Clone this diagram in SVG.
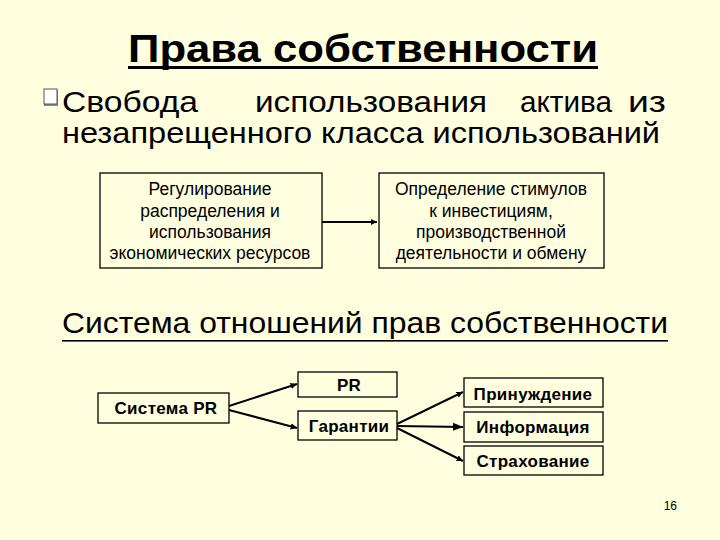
<svg xmlns="http://www.w3.org/2000/svg" width="720" height="540" viewBox="0 0 720 540">
<style>
.t{font-family:"Liberation Sans",Arial,sans-serif;fill:#000}
.box{fill:none;stroke:#000;stroke-width:1.3}
.bt{font-family:"Liberation Sans",Arial,sans-serif;font-size:17.5px;text-anchor:middle;fill:#000}
.bb{font-family:"Liberation Sans",Arial,sans-serif;font-size:17px;font-weight:bold;text-anchor:middle;fill:#000;letter-spacing:0.3px}
.c{stroke:#000;stroke-width:2;fill:none}
</style>
<defs>
<marker id="ah" viewBox="0 0 10 10" refX="10" refY="5" markerWidth="3.2" markerHeight="3.2" orient="auto" markerUnits="strokeWidth"><path d="M0,0 L10,5 L0,10 z" fill="#000"/></marker>
<marker id="ahs" viewBox="0 0 10 10" refX="10" refY="5" markerWidth="5" markerHeight="5" orient="auto" markerUnits="strokeWidth"><path d="M0,1 L10,5 L0,9 z" fill="#000"/></marker>
</defs>
<rect width="720" height="540" fill="#FFFFE0"/>
<g id="title">
<text class="t" x="128" y="62" font-size="38" font-weight="bold" textLength="470" lengthAdjust="spacingAndGlyphs">Права собственности</text>
<rect x="128" y="66" width="470" height="3" fill="#000"/>
</g>
<g id="bullet">
<rect x="44" y="90" width="14" height="16" fill="#888"/>
<rect x="44" y="89" width="13" height="15" fill="#fff" stroke="#555" stroke-width="1"/>
<text class="t" x="62" y="112" font-size="30" textLength="136" lengthAdjust="spacingAndGlyphs">Свобода</text>
<text class="t" x="255" y="112" font-size="30" textLength="232" lengthAdjust="spacingAndGlyphs">использования</text>
<text class="t" x="520" y="112" font-size="30" textLength="92" lengthAdjust="spacingAndGlyphs">актива</text>
<text class="t" x="628" y="112" font-size="30" textLength="38" lengthAdjust="spacingAndGlyphs">из</text>
<text class="t" x="62" y="143" font-size="30" textLength="598" lengthAdjust="spacingAndGlyphs">незапрещенного класса использований</text>
</g>
<g id="n1">
<rect class="box" x="100" y="173" width="222" height="95"/>
<text class="bt" x="210" y="195">Регулирование</text>
<text class="bt" x="210" y="216.5">распределения и</text>
<text class="bt" x="210" y="237.5">использования</text>
<text class="bt" x="210" y="258.5">экономических ресурсов</text>
</g>
<g id="n2">
<rect class="box" x="379" y="173" width="225" height="95"/>
<text class="bt" x="491" y="195">Определение стимулов</text>
<text class="bt" x="491" y="216.5">к инвестициям,</text>
<text class="bt" x="491" y="237.5">производственной</text>
<text class="bt" x="491" y="258.5">деятельности и обмену</text>
</g>
<g id="subtitle">
<text class="t" x="62" y="333" font-size="30" textLength="606" lengthAdjust="spacingAndGlyphs">Система отношений прав собственности</text>
<rect x="62" y="340" width="606" height="1.6" fill="#000"/>
</g>
<g id="n3">
<rect class="box" x="98" y="393" width="131" height="30"/>
<text class="bb" x="166" y="414">Система PR</text>
</g>
<g id="n4">
<rect class="box" x="298" y="372" width="99" height="25"/>
<text class="bb" x="349" y="391">PR</text>
</g>
<g id="n5">
<rect class="box" x="298" y="411" width="99" height="29"/>
<text class="bb" x="349" y="432">Гарантии</text>
</g>
<g id="n6">
<rect class="box" x="464" y="378" width="139" height="29"/>
<text class="bb" x="533" y="400">Принуждение</text>
</g>
<g id="n7">
<rect class="box" x="464" y="412" width="139" height="30"/>
<text class="bb" x="533" y="433">Информация</text>
</g>
<g id="n8">
<rect class="box" x="464" y="446" width="139" height="29"/>
<text class="bb" x="533" y="467">Страхование</text>
</g>
<g id="connectors">
<line class="c" x1="322" y1="222" x2="377" y2="222" stroke-width="3" marker-end="url(#ah)"/>
<line class="c" x1="229" y1="406" x2="297" y2="384" marker-end="url(#ah)"/>
<line class="c" x1="229" y1="410" x2="297" y2="428" marker-end="url(#ah)"/>
<line class="c" x1="397" y1="424" x2="463" y2="392" marker-end="url(#ah)"/>
<line class="c" x1="397" y1="426" x2="463" y2="427" stroke-width="1" marker-end="url(#ahs)"/>
<line class="c" x1="397" y1="428" x2="463" y2="461" marker-end="url(#ah)"/>
</g>
<text class="t" x="677" y="510" font-size="12" text-anchor="end">16</text>
</svg>
